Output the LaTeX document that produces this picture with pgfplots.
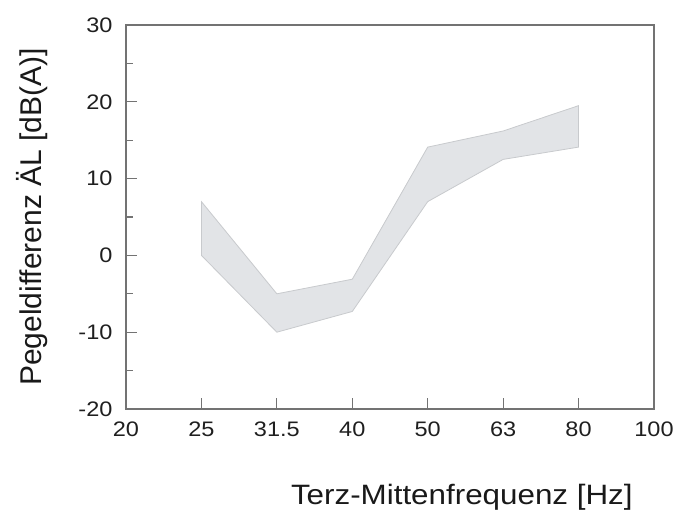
\documentclass[border=0pt]{standalone}
\usepackage{pgfplots}
\pgfplotsset{compat=1.18}
\usepackage{fontspec}
\setmainfont{Liberation Sans}
\newfontfamily\widefont{Liberation Sans}[FakeStretch=1.12]
\definecolor{axgray}{RGB}{115,115,115}
\definecolor{bandfill}{RGB}{226,228,231}
\definecolor{bandedge}{RGB}{200,202,205}
\begin{document}
\begin{tikzpicture}
\useasboundingbox (-126pt,-107pt) rectangle (549pt,409pt);
\begin{axis}[
  at={(0pt,0pt)}, anchor=south west,
  scale only axis, width=528pt, height=384pt,
  xmin=0, xmax=7, ymin=-20, ymax=30,
  xtick={0,1,2,3,4,5,6,7},
  xticklabels={20,25,31.5,40,50,63,80,100},
  ytick={-20,-10,0,10,20,30},
  minor ytick={-15,-5,5,15,25},
  axis line style={axgray, line width=1.2pt},
  tick style={axgray, line width=1.2pt},
  major tick length=11pt, minor tick length=7pt,
  tick align=inside,
  xtick pos=bottom, ytick pos=left,
  /pgf/number format/assume math mode=true,
  ticklabel style={font=\widefont\fontsize{21}{24}\selectfont, text=black!88},
  xticklabel style={yshift=-9pt},
  yticklabel style={xshift=-10pt},
  xlabel={Terz-Mittenfrequenz [Hz]},
  ylabel={Pegeldifferenz ÄL [dB(A)]},
  xlabel style={font=\widefont\fontsize{28}{32}\selectfont, text=black!90,
    at={(axis description cs:0.636,-0.229)}, anchor=center},
  ylabel style={font=\fontsize{30}{34}\selectfont, text=black!90,
    at={(axis description cs:-0.178,0.5)}, anchor=center},
  clip=false,
]
\addplot[fill=bandfill, draw=bandedge, line width=0.8pt] coordinates {
  (1,7) (2,-5) (3,-3.1) (4,14.1) (5,16.2) (6,19.5)
  (6,14.1) (5,12.5) (4,7.0) (3,-7.3) (2,-10) (1,0)
} -- cycle;
\end{axis}
\end{tikzpicture}
\end{document}
